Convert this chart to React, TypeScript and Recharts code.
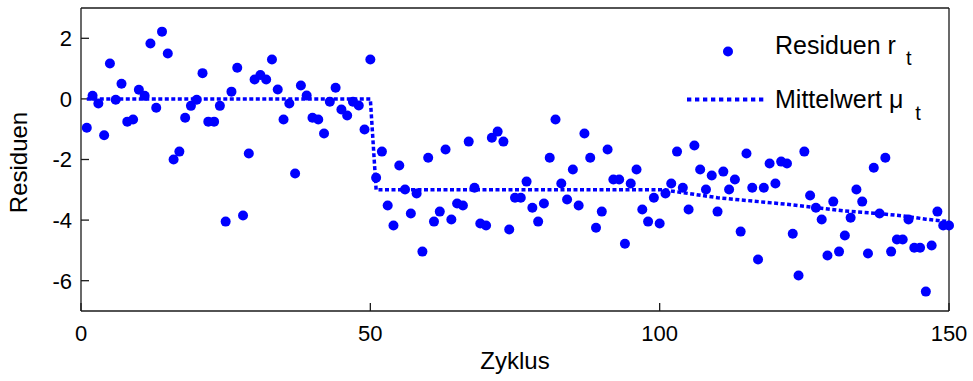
import React from "react";
import { ScatterChart, Scatter, XAxis, YAxis, Legend, Label } from "recharts";

// residuals r_t for cycles 1..150
const RESIDUALS = [
  -0.95, 0.1, -0.15, -1.2, 1.17, -0.03, 0.5, -0.75, -0.68, 0.3,
  0.1, 1.83, -0.29, 2.22, 1.5, -2.0, -1.74, -0.62, -0.23, -0.03,
  0.85, -0.75, -0.75, -0.23, -4.05, 0.24, 1.03, -3.85, -1.8, 0.64,
  0.79, 0.64, 1.3, 0.31, -0.68, -0.15, -2.46, 0.44, 0.11, -0.62,
  -0.68, -1.14, -0.09, 0.37, -0.35, -0.55, -0.09, -0.22, -1.01, 1.3,
  -2.6, -1.74, -3.52, -4.18, -2.2, -2.99, -3.78, -3.12, -5.04, -1.94,
  -4.05, -3.72, -1.67, -3.98, -3.45, -3.52, -1.41, -2.93, -4.11, -4.18,
  -1.28, -1.08, -1.41, -4.31, -3.26, -3.26, -2.73, -3.59, -4.05, -3.45,
  -1.94, -0.68, -2.79, -3.32, -2.33, -3.52, -1.14, -1.94, -4.25, -3.72,
  -1.67, -2.66, -2.66, -4.78, -2.79, -2.33, -3.65, -4.05, -3.26, -4.11,
  -3.12, -2.79, -1.74, -2.93, -3.65, -1.54, -2.33, -2.99, -2.53, -3.72,
  -2.4, -2.99, -2.66, -4.38, -1.8, -2.93, -5.3, -2.93, -2.13, -2.79,
  -2.07, -2.13, -4.45, -5.83, -1.74, -3.19, -3.59, -3.98, -5.17, -3.39,
  -5.04, -4.51, -3.92, -2.99, -3.39, -5.1, -2.27, -3.78, -1.94, -5.04,
  -4.64, -4.64, -3.98, -4.91, -4.91, -6.36, -4.84, -3.72, -4.18, -4.18,
];
const CYCLES = RESIDUALS.map((_, i) => i + 1);

// mean mu_t, breakpoints of the dotted line
const MEAN_CYCLES = [1, 50, 51, 101, 102, 106, 110, 116, 122, 127, 132, 137, 142, 146, 150];
const MEAN_VALUES = [0, 0, -3, -3, -3.04, -3.15, -3.26, -3.37, -3.48, -3.59, -3.7, -3.77, -3.86, -3.97, -4.05];

const X_TICKS = [0, 50, 100, 150];
const Y_TICKS = [-6, -4, -2, 0, 2];

const BLUE = "#0000FF";
const FONT = "'Liberation Sans', Arial, Helvetica, sans-serif";

const residualData = CYCLES.map((t, i) => ({ t, v: RESIDUALS[i] }));
const meanData = MEAN_CYCLES.map((t, i) => ({ t, v: MEAN_VALUES[i] }));

const axisProps = {
  stroke: "#1a1a1a",
  strokeWidth: 1.3,
  tickSize: -8,
};

function Dot(props: any) {
  return <circle cx={props.cx} cy={props.cy} r={5} fill={BLUE} />;
}

function LegendBox() {
  return (
    <svg width={280} height={110} style={{ display: "block", fontFamily: FONT }}>
      <circle cx={48} cy={31.5} r={5} fill={BLUE} />
      <text x={95} y={33.5} fontSize={25} fill="#000">
        Residuen r
        <tspan dx={10} dy={11.5} fontSize={20}>t</tspan>
      </text>
      <line x1={7} y1={79.5} x2={84} y2={79.5} stroke={BLUE} strokeWidth={4} strokeDasharray="4.3 3.7" />
      <text x={95} y={87.5} fontSize={25} fill="#000">
        Mittelwert μ
        <tspan dx={12} dy={12} fontSize={20}>t</tspan>
      </text>
    </svg>
  );
}

export default function App() {
  return (
    <div style={{ position: "absolute", left: 0, top: 0, background: "#fff", fontFamily: FONT }}>
      <ScatterChart width={973} height={381} margin={{ top: 0, right: 0, bottom: 0, left: 0 }}>
        <XAxis
          xAxisId="b"
          type="number"
          dataKey="t"
          domain={[0, 150]}
          ticks={X_TICKS}
          interval={0}
          height={70}
          tickMargin={22}
          tick={{ fontSize: 22, fill: "#000", fontFamily: FONT }}
          {...axisProps}
        >
          <Label
            content={({ viewBox }: any) => (
              <text
                x={viewBox.x + viewBox.width / 2}
                y={viewBox.y + 58}
                textAnchor="middle"
                fontSize={24}
                fill="#000"
                fontFamily={FONT}
              >
                Zyklus
              </text>
            )}
          />
        </XAxis>
        <XAxis
          xAxisId="top"
          orientation="top"
          type="number"
          dataKey="t"
          domain={[0, 150]}
          ticks={X_TICKS}
          interval={0}
          height={8}
          tick={false}
          {...axisProps}
        />
        <YAxis
          yAxisId="l"
          type="number"
          dataKey="v"
          domain={[-7, 3]}
          ticks={Y_TICKS}
          interval={0}
          width={81}
          tickMargin={17}
          tick={{ fontSize: 22, fill: "#000", fontFamily: FONT }}
          {...axisProps}
        >
          <Label
            content={({ viewBox }: any) => {
              const x = viewBox.x + 27;
              const y = viewBox.y + viewBox.height / 2 + 3;
              return (
                <text
                  x={x}
                  y={y}
                  transform={`rotate(-90, ${x}, ${y})`}
                  textAnchor="middle"
                  fontSize={24}
                  fill="#000"
                  fontFamily={FONT}
                >
                  Residuen
                </text>
              );
            }}
          />
        </YAxis>
        <YAxis
          yAxisId="r"
          orientation="right"
          type="number"
          dataKey="v"
          domain={[-7, 3]}
          ticks={Y_TICKS}
          interval={0}
          width={24}
          tick={false}
          {...axisProps}
        />
        <Legend
          layout="horizontal"
          verticalAlign="middle"
          align="center"
          wrapperStyle={{ left: 680, top: 20, width: 280, height: 110 }}
          content={() => <LegendBox />}
        />
        <Scatter
          name="Mittelwert"
          xAxisId="b"
          yAxisId="l"
          data={meanData}
          fill={BLUE}
          line={{ stroke: BLUE, strokeWidth: 3.5, strokeDasharray: "4 2.5" }}
          lineType="joint"
          shape={() => <g />}
          isAnimationActive={false}
        />
        <Scatter
          name="Residuen"
          xAxisId="b"
          yAxisId="l"
          data={residualData}
          fill={BLUE}
          shape={<Dot />}
          isAnimationActive={false}
        />
      </ScatterChart>
    </div>
  );
}
